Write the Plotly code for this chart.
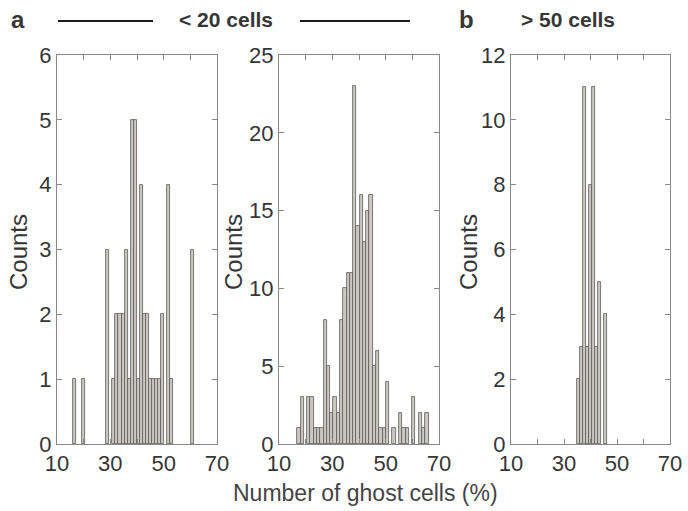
import plotly.graph_objects as go

# ---- data (histogram counts) ----
p1_counts = [1, 0, 0, 1, 0, 0, 0, 0, 0, 0, 0, 3, 0, 1, 2, 2, 2, 3, 1, 5,
             5, 1, 4, 2, 2, 1, 1, 1, 1, 2, 0, 4, 1, 0, 0, 0, 0, 0, 0, 3]
p1_start, p1_width = 16.0, 1.137

p2_counts = [1, 3, 0, 3, 3, 1, 1, 1, 8, 5, 2, 3, 2, 8, 10, 11, 11, 23, 14, 16,
             13, 15, 16, 5, 6, 1, 1, 4, 0, 1, 0, 2, 1, 1, 0, 3, 0, 2, 1, 2]
p2_start, p2_width = 16.87, 1.23

p3_counts = [2, 3, 11, 3, 8, 11, 3, 5, 0, 4]
p3_start, p3_width = 34.86, 1.14

x_tickvals = [10, 20, 30, 40, 50, 60, 70]
x_ticktext = ["10", "", "30", "", "50", "", "70"]
y_ranges = [[0, 6], [0, 25], [0, 12]]
y_dticks = [1, 5, 2]

W, H = 688, 511
FONT = "Liberation Sans, Arial, sans-serif"
FILL = "#cbc8c2"
EDGE = "#5a5a5a"
TXT = "#363636"

fig = go.Figure()

panels = [(p1_counts, p1_start, p1_width), (p2_counts, p2_start, p2_width),
          (p3_counts, p3_start, p3_width)]
xdoms_px = [(57, 217), (279, 439), (511, 670)]
ydom = [1 - 444 / H, 1 - 55 / H]

for i, (counts, start, width) in enumerate(panels):
    centers = [start + (k + 0.5) * width for k in range(len(counts))]
    shown = [c if c > 0 else None for c in counts]
    sfx = "" if i == 0 else str(i + 1)
    fig.add_trace(go.Bar(
        x=centers, y=shown, width=width,
        marker=dict(color=FILL, line=dict(color=EDGE, width=0.8)),
        xaxis="x" + sfx, yaxis="y" + sfx, showlegend=False,
    ))
    axis_common = dict(
        showline=True, linecolor="#8a8a8a", linewidth=1, mirror="allticks",
        ticks="inside", ticklen=5, tickcolor="#8a8a8a", showgrid=False,
        zeroline=False, automargin=False,
        tickfont=dict(family=FONT, size=22, color=TXT),
    )
    fig.layout["xaxis" + sfx] = dict(
        domain=[xdoms_px[i][0] / W, xdoms_px[i][1] / W], range=[10, 70],
        anchor="y" + sfx, tickvals=x_tickvals, ticktext=x_ticktext,
        ticklabelstandoff=0, **axis_common)
    fig.layout["yaxis" + sfx] = dict(
        domain=ydom, range=y_ranges[i], dtick=y_dticks[i], anchor="x" + sfx,
        ticklabelstandoff=0, **axis_common)

annotations = []
for xc in [18, 233, 468]:
    annotations.append(dict(
        text="Counts", x=xc / W, y=1 - 252 / H, xref="paper", yref="paper",
        textangle=-90, showarrow=False, xanchor="center", yanchor="middle",
        font=dict(family=FONT, size=24, color=TXT)))
annotations.append(dict(
    text="Number of ghost cells (%)", x=365 / W, y=1 - 493 / H, xref="paper",
    yref="paper", showarrow=False, xanchor="center", yanchor="middle",
    font=dict(family=FONT, size=23, color="#444444")))
for txt, xc in [("a", 18), ("b", 466), ("&lt; 20 cells", 226), ("&gt; 50 cells", 568)]:
    annotations.append(dict(
        text="<b>" + txt + "</b>", x=xc / W, y=1 - 19 / H, xref="paper",
        yref="paper", showarrow=False, xanchor="center", yanchor="middle",
        font=dict(family=FONT, size=24 if len(txt) == 1 else 21, color=TXT)))

shapes = []
for x0, x1 in [(58, 153), (300, 410)]:
    shapes.append(dict(type="line", xref="paper", yref="paper",
                       x0=x0 / W, x1=x1 / W, y0=1 - 21 / H, y1=1 - 21 / H,
                       line=dict(color="#1e1a1a", width=2)))

fig.update_layout(
    width=W, height=H, margin=dict(l=0, r=0, t=0, b=0),
    paper_bgcolor="white", plot_bgcolor="white",
    bargap=0, barmode="overlay",
    annotations=annotations, shapes=shapes,
)

fig.write_html("out.html")
